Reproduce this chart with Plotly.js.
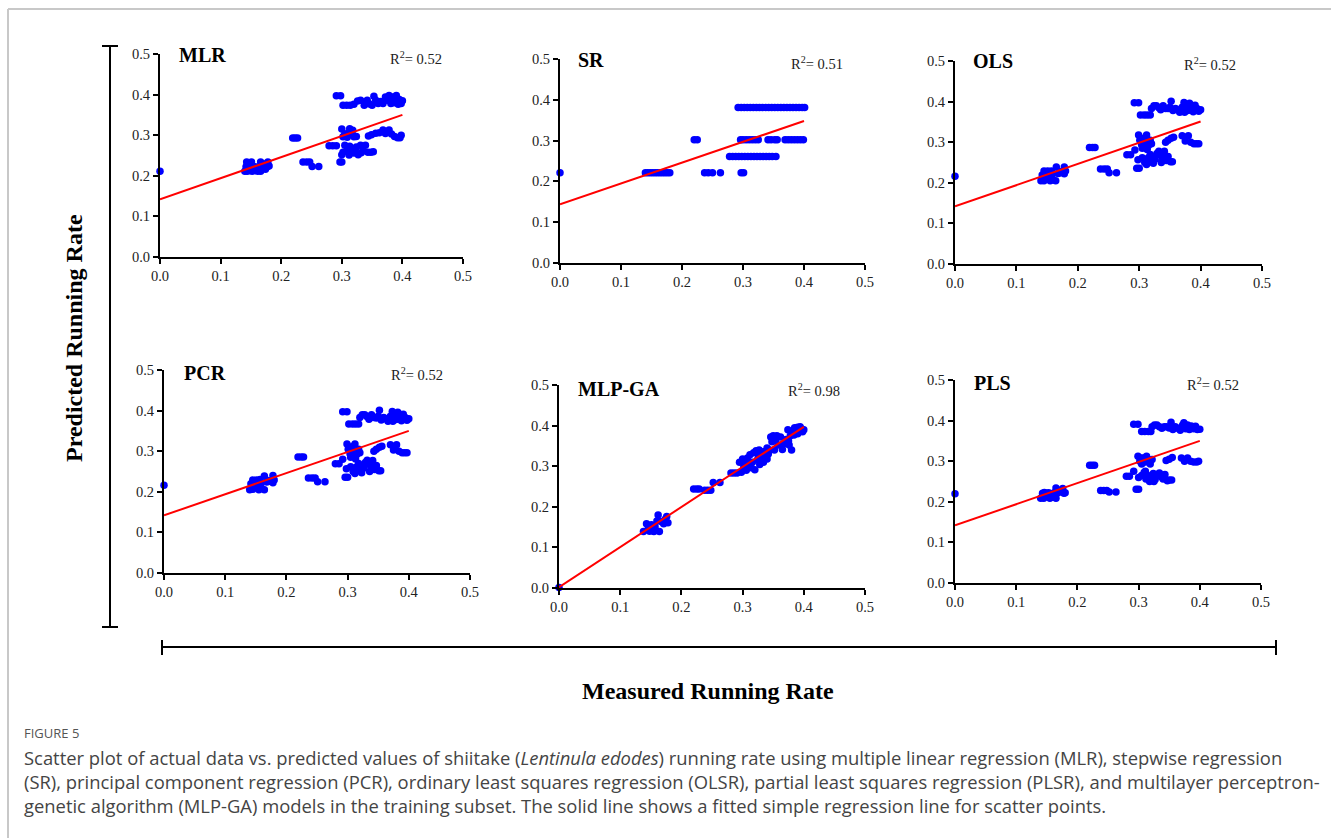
<!DOCTYPE html>
<html>
<head>
<meta charset="utf-8">
<script src="https://cdn.plot.ly/plotly-3.0.1.min.js"></script>
<style>html,body{margin:0;padding:0;background:#fff;}#chart{width:1331px;height:838px;}</style>
</head>
<body>
<div id="chart"></div>
<script>
// ---- data: [measured, predicted] pairs ----
const models = ["MLR", "SR", "OLS", "PCR", "MLP-GA", "PLS"];
const r2Labels = ["0.52", "0.51", "0.52", "0.52", "0.98", "0.52"];

const mlrPoints = [
 [0,0.211],
 [0.140,0.211],[0.144,0.211],[0.148,0.213],[0.152,0.211],[0.156,0.213],[0.161,0.211],[0.166,0.211],[0.142,0.222],[0.149,0.220],[0.157,0.222],[0.163,0.218],[0.170,0.222],[0.176,0.221],[0.180,0.224],[0.143,0.234],[0.151,0.234],[0.166,0.234],[0.172,0.229],[0.178,0.234],[0.174,0.216],
 [0.219,0.293],[0.223,0.293],[0.227,0.293],[0.236,0.234],[0.242,0.234],[0.247,0.234],[0.251,0.223],[0.262,0.223],[0.279,0.274],[0.285,0.274],[0.291,0.274],[0.291,0.397],[0.298,0.397],[0.297,0.234],[0.300,0.234],
 [0.302,0.374],[0.308,0.374],[0.314,0.374],[0.320,0.376],[0.326,0.384],[0.331,0.386],[0.337,0.374],[0.342,0.386],[0.346,0.377],[0.350,0.374],[0.353,0.396],[0.356,0.386],[0.360,0.378],[0.364,0.383],[0.368,0.378],[0.372,0.394],[0.375,0.386],[0.378,0.398],[0.381,0.378],[0.384,0.394],[0.387,0.386],[0.390,0.398],[0.393,0.376],[0.395,0.388],[0.398,0.378],[0.400,0.385],[0.376,0.390],[0.386,0.380],[0.392,0.390],[0.383,0.386],
 [0.300,0.315],[0.305,0.303],[0.309,0.295],[0.313,0.316],[0.316,0.303],[0.320,0.296],[0.302,0.296],[0.311,0.306],[0.318,0.312],[0.324,0.297],[0.344,0.298],[0.349,0.301],[0.356,0.305],[0.368,0.313],[0.372,0.304],[0.378,0.313],[0.382,0.303],[0.387,0.297],[0.392,0.294],[0.396,0.294],[0.398,0.300],[0.362,0.306],
 [0.300,0.252],[0.305,0.275],[0.309,0.262],[0.312,0.251],[0.316,0.266],[0.320,0.256],[0.324,0.271],[0.327,0.252],[0.331,0.275],[0.335,0.262],[0.339,0.275],[0.343,0.258],[0.348,0.258],[0.352,0.259],[0.313,0.273],[0.322,0.262],[0.332,0.257],[0.302,0.258]
];

const srPoints = [
 [0,0.221],
 [0.140,0.221],[0.144,0.221],[0.148,0.221],[0.152,0.221],[0.156,0.221],[0.160,0.221],[0.164,0.221],[0.168,0.221],[0.172,0.221],[0.176,0.221],[0.180,0.221],
 [0.220,0.302],[0.225,0.302],
 [0.237,0.221],[0.243,0.221],[0.250,0.221],[0.263,0.221],[0.297,0.221],[0.301,0.221],
 [0.278,0.261],[0.283,0.261],[0.288,0.261],[0.293,0.261],[0.298,0.261],[0.303,0.261],[0.308,0.261],[0.313,0.261],[0.318,0.261],[0.323,0.261],[0.328,0.261],[0.333,0.261],[0.338,0.261],[0.343,0.261],[0.348,0.261],[0.354,0.261],
 [0.296,0.302],[0.300,0.302],[0.305,0.302],[0.310,0.302],[0.315,0.302],[0.320,0.302],[0.325,0.302],[0.341,0.302],[0.346,0.302],[0.352,0.302],[0.356,0.302],[0.369,0.302],[0.374,0.302],[0.379,0.302],[0.384,0.302],[0.389,0.302],[0.394,0.302],[0.399,0.302],
 [0.292,0.381],[0.297,0.381],[0.302,0.381],[0.307,0.381],[0.312,0.381],[0.317,0.381],[0.322,0.381],[0.327,0.381],[0.332,0.381],[0.337,0.381],[0.342,0.381],[0.347,0.381],[0.352,0.381],[0.357,0.381],[0.362,0.381],[0.367,0.381],[0.372,0.381],[0.377,0.381],[0.382,0.381],[0.387,0.381],[0.392,0.381],[0.397,0.381],[0.401,0.381]
];

const olsPoints = [
 [0,0.216],
 [0.140,0.205],[0.145,0.205],[0.150,0.212],[0.155,0.205],[0.160,0.207],[0.164,0.205],[0.142,0.219],[0.148,0.222],[0.153,0.216],[0.158,0.219],[0.168,0.223],[0.172,0.225],[0.178,0.222],[0.145,0.229],[0.151,0.229],[0.157,0.229],[0.165,0.239],[0.178,0.239],[0.180,0.229],[0.170,0.228],
 [0.219,0.287],[0.224,0.287],[0.228,0.287],[0.237,0.234],[0.243,0.234],[0.248,0.234],[0.251,0.225],[0.263,0.225],[0.280,0.269],[0.286,0.269],[0.293,0.281],[0.292,0.397],[0.299,0.397],[0.296,0.236],[0.300,0.236],
 [0.302,0.367],[0.308,0.367],[0.313,0.367],[0.318,0.367],[0.320,0.383],[0.324,0.390],[0.328,0.390],[0.332,0.385],[0.335,0.380],[0.339,0.390],[0.343,0.383],[0.347,0.383],[0.350,0.386],[0.352,0.401],[0.355,0.378],[0.359,0.383],[0.362,0.380],[0.366,0.374],[0.370,0.386],[0.373,0.398],[0.376,0.391],[0.379,0.378],[0.382,0.396],[0.385,0.386],[0.388,0.375],[0.391,0.391],[0.394,0.383],[0.397,0.376],[0.400,0.380],[0.374,0.374],[0.383,0.380],
 [0.299,0.318],[0.301,0.305],[0.304,0.294],[0.307,0.310],[0.310,0.300],[0.312,0.318],[0.315,0.292],[0.318,0.305],[0.320,0.296],[0.305,0.285],[0.313,0.282],[0.343,0.300],[0.347,0.305],[0.352,0.310],[0.356,0.312],[0.370,0.316],[0.375,0.303],[0.380,0.316],[0.384,0.300],[0.389,0.296],[0.393,0.296],[0.397,0.296],
 [0.298,0.257],[0.305,0.262],[0.309,0.250],[0.312,0.245],[0.315,0.262],[0.318,0.252],[0.321,0.265],[0.323,0.248],[0.326,0.258],[0.329,0.272],[0.332,0.278],[0.335,0.268],[0.338,0.262],[0.341,0.278],[0.344,0.255],[0.347,0.265],[0.351,0.252],[0.354,0.252],[0.336,0.250],[0.318,0.270]
];

const pcrPoints = [
 [0,0.216],
 [0.140,0.205],[0.145,0.206],[0.150,0.213],[0.155,0.205],[0.160,0.208],[0.164,0.205],[0.142,0.220],[0.148,0.223],[0.153,0.216],[0.158,0.220],[0.168,0.224],[0.172,0.226],[0.178,0.222],[0.145,0.229],[0.151,0.229],[0.157,0.230],[0.164,0.239],[0.178,0.240],[0.180,0.229],[0.170,0.228],
 [0.219,0.286],[0.224,0.286],[0.228,0.286],[0.236,0.234],[0.242,0.234],[0.247,0.234],[0.251,0.225],[0.263,0.225],[0.280,0.269],[0.286,0.269],[0.292,0.280],[0.292,0.397],[0.299,0.397],[0.296,0.236],[0.300,0.236],
 [0.302,0.367],[0.308,0.367],[0.313,0.367],[0.318,0.367],[0.320,0.383],[0.324,0.390],[0.328,0.390],[0.332,0.385],[0.335,0.379],[0.339,0.390],[0.343,0.383],[0.347,0.382],[0.350,0.386],[0.352,0.401],[0.355,0.377],[0.359,0.383],[0.362,0.380],[0.366,0.374],[0.370,0.386],[0.373,0.398],[0.376,0.391],[0.379,0.378],[0.382,0.396],[0.385,0.386],[0.388,0.375],[0.391,0.391],[0.394,0.383],[0.397,0.376],[0.400,0.380],[0.374,0.374],[0.383,0.380],
 [0.299,0.318],[0.301,0.305],[0.304,0.294],[0.307,0.311],[0.310,0.300],[0.312,0.318],[0.315,0.292],[0.318,0.305],[0.320,0.296],[0.305,0.285],[0.313,0.281],[0.343,0.300],[0.347,0.305],[0.352,0.310],[0.356,0.312],[0.370,0.316],[0.375,0.303],[0.380,0.316],[0.384,0.300],[0.389,0.296],[0.393,0.296],[0.397,0.296],
 [0.298,0.257],[0.305,0.262],[0.309,0.250],[0.312,0.245],[0.315,0.262],[0.318,0.252],[0.321,0.265],[0.323,0.247],[0.326,0.258],[0.329,0.272],[0.332,0.278],[0.335,0.268],[0.338,0.262],[0.341,0.277],[0.344,0.255],[0.347,0.265],[0.351,0.252],[0.354,0.252],[0.336,0.250],[0.318,0.270]
];

const mlpgaPoints = [
 [0,0.001],
 [0.138,0.139],[0.143,0.158],[0.146,0.150],[0.151,0.156],[0.155,0.139],[0.157,0.150],[0.162,0.180],[0.164,0.139],[0.167,0.164],[0.171,0.158],[0.174,0.170],[0.176,0.176],[0.178,0.161],[0.160,0.165],[0.148,0.140],
 [0.220,0.244],[0.225,0.244],[0.229,0.244],[0.238,0.241],[0.243,0.241],[0.248,0.241],[0.252,0.260],[0.263,0.260],[0.281,0.283],[0.286,0.283],[0.291,0.283],
 [0.295,0.310],[0.298,0.285],[0.300,0.318],[0.302,0.298],[0.304,0.312],[0.306,0.290],[0.308,0.320],[0.310,0.305],[0.312,0.328],[0.314,0.296],[0.316,0.310],[0.318,0.333],[0.320,0.291],[0.322,0.338],[0.324,0.315],[0.326,0.326],[0.328,0.304],[0.330,0.335],[0.332,0.320],[0.334,0.310],[0.336,0.336],[0.338,0.325],[0.340,0.345],[0.342,0.330],[0.344,0.340],[0.346,0.372],[0.348,0.360],[0.350,0.375],[0.352,0.340],[0.354,0.365],[0.356,0.375],[0.358,0.352],[0.362,0.372],[0.365,0.341],[0.368,0.355],[0.371,0.366],[0.374,0.390],[0.376,0.352],[0.378,0.375],[0.380,0.340],[0.382,0.385],[0.384,0.377],[0.386,0.390],[0.388,0.383],[0.390,0.396],[0.392,0.388],[0.394,0.397],[0.396,0.392],[0.398,0.385],[0.400,0.390],[0.385,0.395],[0.390,0.380],[0.375,0.362],[0.340,0.318],[0.327,0.340]
];

const plsPoints = [
 [0,0.220],
 [0.140,0.209],[0.145,0.209],[0.150,0.213],[0.155,0.209],[0.160,0.211],[0.165,0.209],[0.143,0.221],[0.150,0.221],[0.156,0.218],[0.162,0.222],[0.168,0.222],[0.173,0.225],[0.178,0.221],[0.146,0.223],[0.153,0.222],[0.165,0.234],[0.176,0.233],[0.180,0.222],[0.171,0.228],
 [0.220,0.290],[0.224,0.290],[0.228,0.290],[0.238,0.228],[0.243,0.228],[0.248,0.228],[0.252,0.224],[0.263,0.224],[0.280,0.263],[0.285,0.263],[0.292,0.275],[0.292,0.391],[0.299,0.391],[0.296,0.231],[0.300,0.231],
 [0.305,0.373],[0.310,0.373],[0.316,0.373],[0.320,0.373],[0.322,0.385],[0.326,0.389],[0.330,0.389],[0.334,0.385],[0.338,0.381],[0.342,0.385],[0.346,0.385],[0.350,0.382],[0.353,0.396],[0.356,0.378],[0.360,0.385],[0.364,0.381],[0.368,0.376],[0.372,0.389],[0.374,0.395],[0.377,0.380],[0.380,0.389],[0.383,0.378],[0.386,0.387],[0.390,0.380],[0.393,0.386],[0.396,0.378],[0.400,0.379],[0.376,0.385],[0.388,0.383],
 [0.299,0.312],[0.302,0.300],[0.305,0.293],[0.308,0.308],[0.311,0.298],[0.313,0.312],[0.316,0.300],[0.319,0.293],[0.322,0.304],[0.304,0.308],[0.345,0.302],[0.350,0.305],[0.355,0.309],[0.370,0.308],[0.375,0.300],[0.380,0.308],[0.385,0.300],[0.390,0.298],[0.395,0.298],[0.398,0.300],
 [0.300,0.260],[0.305,0.265],[0.309,0.272],[0.312,0.256],[0.315,0.265],[0.318,0.250],[0.321,0.262],[0.324,0.270],[0.327,0.255],[0.330,0.267],[0.334,0.271],[0.337,0.262],[0.340,0.256],[0.343,0.267],[0.347,0.252],[0.350,0.254],[0.354,0.254],[0.311,0.275],[0.325,0.250]
];

// fitted regression lines: [x0, y0, x1, y1]
const fitMLR = [0, 0.142, 0.400, 0.350];
const fitSR = [0, 0.144, 0.400, 0.348];
const fitOLS = [0, 0.142, 0.400, 0.351];
const fitPCR = [0, 0.142, 0.400, 0.350];
const fitMLPGA = [0, 0.002, 0.400, 0.397];
const fitPLS = [0, 0.142, 0.400, 0.350];

const tickVals = [0, 0.1, 0.2, 0.3, 0.4, 0.5];
const tickText = ["0.0", "0.1", "0.2", "0.3", "0.4", "0.5"];

const allPoints = [mlrPoints, srPoints, olsPoints, pcrPoints, mlpgaPoints, plsPoints];
const allFits = [fitMLR, fitSR, fitOLS, fitPCR, fitMLPGA, fitPLS];

// ---- layout geometry (pixels) ----
const W = 1331, H = 838;
// [left, right, top, bottom] of each plot area
const boxes = [
  [160, 463, 54, 257],
  [560, 865, 59, 263],
  [955, 1262, 61, 264],
  [164, 470, 370, 573],
  [559, 865, 385, 588],
  [955, 1261, 380, 583]
];
// title (left x, centre y) and R2 label (left x, centre y)
const titlePos = [[177,55],[576,60],[971,61],[182,373],[576,389],[972,383]];
const r2Pos = [[388,58],[789,63],[1182,64],[389,374],[786,390],[1185,384]];

const px = v => v / W;
const py = v => 1 - v / H;

const serif = "Liberation Serif, Times New Roman, serif";
const traces = [];
const layout = {
  width: W, height: H,
  margin: {l:0, r:0, t:0, b:0},
  paper_bgcolor: "#ffffff",
  plot_bgcolor: "rgba(0,0,0,0)",
  showlegend: false,
  annotations: [],
  shapes: []
};

models.forEach((m, i) => {
  const k = i + 1;
  const xa = "x" + k, ya = "y" + k;
  const pts = allPoints[i];
  const fit = allFits[i];
  traces.push({
    type: "scatter", mode: "markers",
    x: pts.map(p => p[0]), y: pts.map(p => p[1]),
    xaxis: xa, yaxis: ya, cliponaxis: false,
    marker: {color: "#0000ff", size: 7.5, line: {width: 0}},
    hoverinfo: "skip"
  });
  traces.push({
    type: "scatter", mode: "lines",
    x: [fit[0], fit[2]], y: [fit[1], fit[3]],
    xaxis: xa, yaxis: ya, cliponaxis: false,
    line: {color: "#ff0000", width: 2},
    hoverinfo: "skip"
  });
  const b = boxes[i];
  const axCommon = {
    range: [0, 0.5], tickvals: tickVals, ticktext: tickText,
    showgrid: false, zeroline: false, showline: true,
    linecolor: "#000", linewidth: 2, ticks: "outside",
    ticklen: 5, tickwidth: 2, tickcolor: "#000",
    tickfont: {family: serif, size: 14.5, color: "#222"},
    fixedrange: true
  };
  layout["xaxis" + (k === 1 ? "" : k)] = Object.assign({}, axCommon, {
    domain: [px(b[0]), px(b[1])], anchor: ya
  });
  layout["yaxis" + (k === 1 ? "" : k)] = Object.assign({}, axCommon, {
    domain: [py(b[3]), py(b[2])], anchor: xa
  });
  layout.annotations.push({
    text: "<b>" + m + "</b>", xref: "paper", yref: "paper",
    x: px(titlePos[i][0]), y: py(titlePos[i][1]),
    xanchor: "left", yanchor: "middle", showarrow: false,
    font: {family: serif, size: 20, color: "#000"}
  });
  layout.annotations.push({
    text: "R<sup>2</sup>= " + r2Labels[i], xref: "paper", yref: "paper",
    x: px(r2Pos[i][0]), y: py(r2Pos[i][1]),
    xanchor: "left", yanchor: "middle", showarrow: false,
    font: {family: serif, size: 14.5, color: "#222"}
  });
});

// outer axis titles
layout.annotations.push({
  text: "<b>Predicted Running Rate</b>", xref: "paper", yref: "paper",
  x: px(74), y: py(338), textangle: -90, showarrow: false,
  xanchor: "center", yanchor: "middle",
  font: {family: serif, size: 24, color: "#000"}
});
layout.annotations.push({
  text: "<b>Measured Running Rate</b>", xref: "paper", yref: "paper",
  x: px(708), y: py(691), showarrow: false,
  xanchor: "center", yanchor: "middle",
  font: {family: serif, size: 24, color: "#000"}
});

// caption
const captionFont = "Open Sans, Noto Sans, sans-serif";
layout.annotations.push({
  text: "FIGURE 5", xref: "paper", yref: "paper",
  x: px(22), y: py(733), xanchor: "left", yanchor: "middle", showarrow: false,
  font: {family: captionFont, size: 13, color: "#555"}
});
const captionLines = [
  "Scatter plot of actual data vs. predicted values of shiitake (<i>Lentinula edodes</i>) running rate using multiple linear regression (MLR), stepwise regression",
  "(SR), principal component regression (PCR), ordinary least squares regression (OLSR), partial least squares regression (PLSR), and multilayer perceptron-",
  "genetic algorithm (MLP-GA) models in the training subset. The solid line shows a fitted simple regression line for scatter points."
];
const captionY = [757, 781, 805];
captionLines.forEach((t, j) => {
  layout.annotations.push({
    text: t, xref: "paper", yref: "paper",
    x: px(22), y: py(captionY[j]), xanchor: "left", yanchor: "middle", showarrow: false,
    font: {family: captionFont, size: 18.4, color: "#444"}
  });
});

// brackets
const blk = {color: "#000", width: 2};
layout.shapes.push(
  {type: "line", xref: "paper", yref: "paper", x0: px(110), x1: px(110), y0: py(46), y1: py(627), line: blk},
  {type: "line", xref: "paper", yref: "paper", x0: px(102), x1: px(118), y0: py(46), y1: py(46), line: blk},
  {type: "line", xref: "paper", yref: "paper", x0: px(102), x1: px(118), y0: py(627), y1: py(627), line: blk},
  {type: "line", xref: "paper", yref: "paper", x0: px(162), x1: px(1276), y0: py(647), y1: py(647), line: blk},
  {type: "line", xref: "paper", yref: "paper", x0: px(162), x1: px(162), y0: py(640), y1: py(655), line: blk},
  {type: "line", xref: "paper", yref: "paper", x0: px(1276), x1: px(1276), y0: py(640), y1: py(655), line: blk},
  // page frame
  {type: "line", xref: "paper", yref: "paper", x0: px(8), x1: px(1331), y0: py(9), y1: py(9), line: {color: "#c8c8c8", width: 2}},
  {type: "line", xref: "paper", yref: "paper", x0: px(8), x1: px(8), y0: py(9), y1: py(838), line: {color: "#c8c8c8", width: 2}}
);

Plotly.newPlot("chart", traces, layout, {staticPlot: true, displayModeBar: false});
</script>
</body>
</html>
